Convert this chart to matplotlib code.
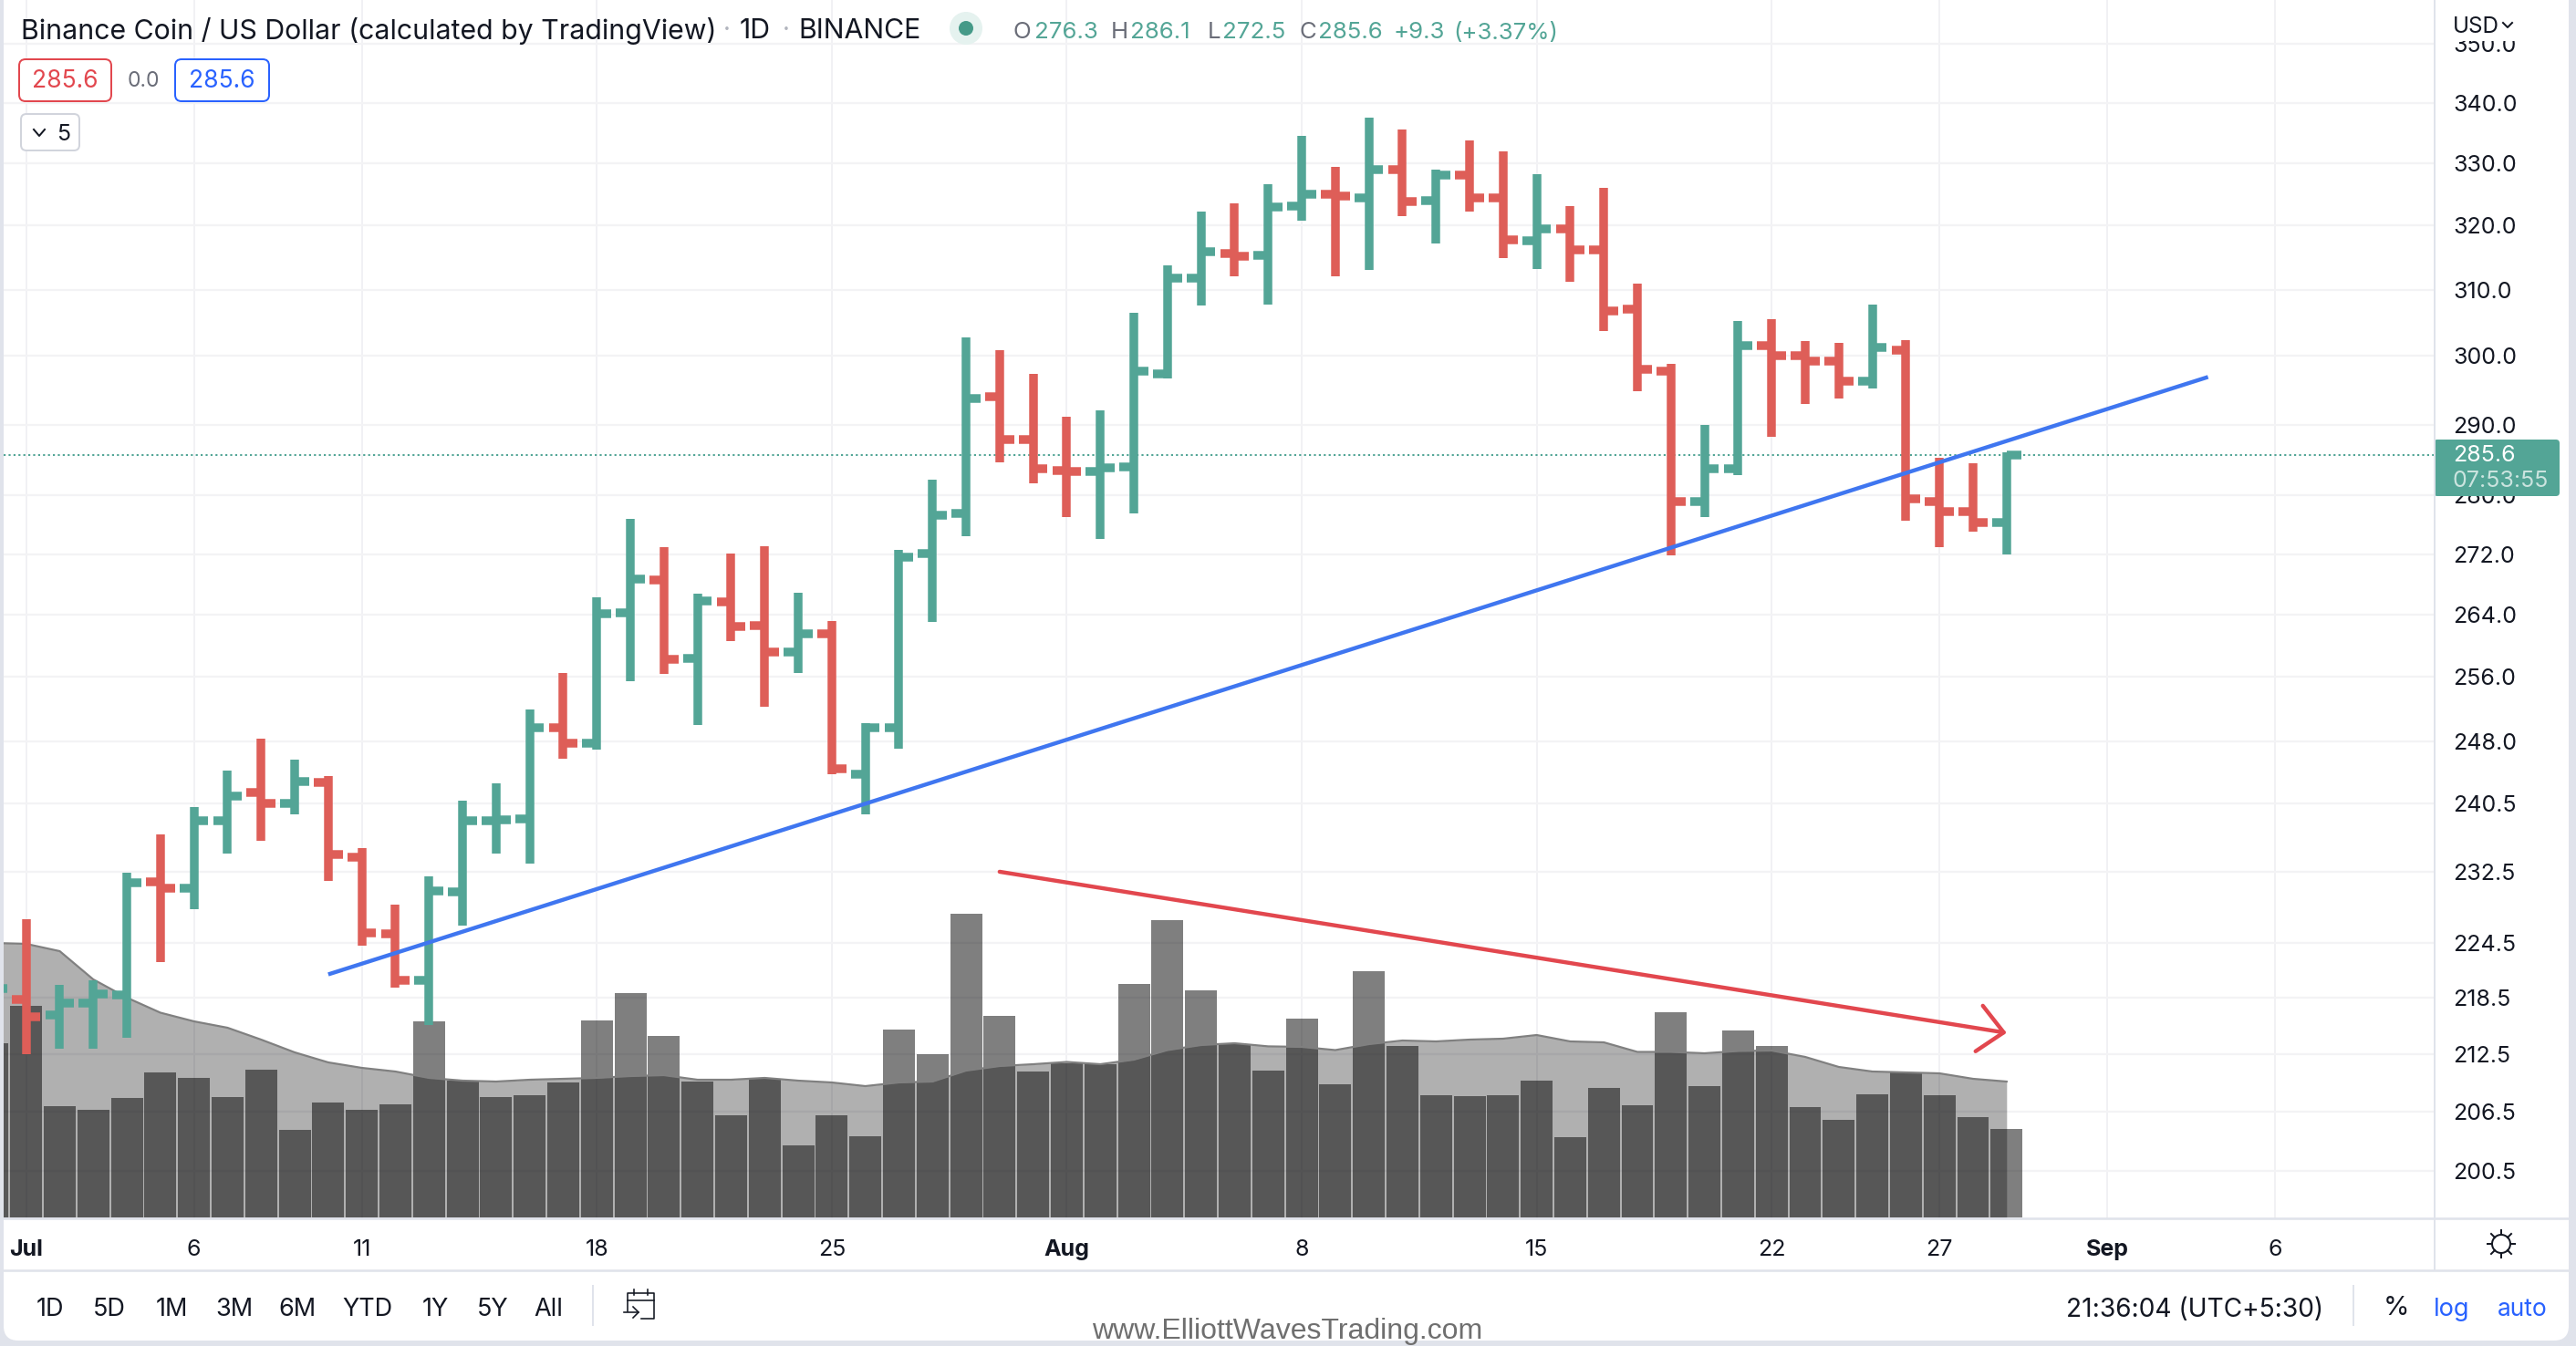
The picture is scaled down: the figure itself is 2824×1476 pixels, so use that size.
#!/usr/bin/env python3
"""
Binance Coin daily OHLC chart with volume, in the TradingView layout
"""

import matplotlib
matplotlib.use('Agg')  # Non-interactive backend
import matplotlib.pyplot as plt
from matplotlib.patches import FancyBboxPatch, Rectangle, Circle
from matplotlib.ticker import FixedLocator, FixedFormatter, NullLocator

# Days counted from Jul 1, the first one (-1) is only just visible at the left edge
days = list(range(-1, 60))

opens = [217.0, 218.3, 216.6, 217.9, 218.8, 231.3, 230.6, 238.4, 241.8, 240.5, 243.0,
         234.2, 225.5, 220.4, 230.2, 238.4, 238.7, 249.7, 247.7, 264.2, 268.6, 258.3,
         265.7, 262.6, 259.2, 261.5, 244.0, 249.7, 272.1, 277.5, 294.0, 287.8, 283.5,
         283.3, 284.0, 297.4, 311.7, 315.6, 315.3, 323.0, 325.0, 324.4, 329.0, 323.9,
         328.0, 324.4, 317.6, 319.4, 316.1, 307.0, 297.7, 279.2, 283.8, 301.6, 300.0,
         299.3, 296.3, 300.8, 279.2, 277.8, 276.3]
highs = [223.0, 227.1, 219.9, 220.4, 232.4, 236.8, 240.1, 244.4, 248.3, 245.7, 243.8,
         235.2, 228.7, 232.0, 240.8, 242.9, 251.9, 256.5, 266.3, 276.8, 272.9, 266.8,
         272.1, 273.1, 266.9, 263.2, 250.2, 272.6, 282.2, 302.7, 300.8, 297.3, 291.1,
         292.0, 306.4, 313.8, 322.2, 323.5, 326.6, 334.5, 329.4, 337.5, 335.6, 329.0,
         333.7, 331.9, 328.2, 323.0, 326.0, 310.9, 298.8, 289.9, 305.2, 305.5, 302.2,
         301.9, 307.7, 302.4, 285.3, 284.5, 286.1]
lows = [214.0, 212.5, 213.0, 213.0, 214.2, 222.3, 228.2, 234.6, 236.1, 239.2, 231.4,
        224.2, 219.6, 215.5, 226.4, 234.6, 233.4, 245.8, 247.0, 255.5, 256.4, 250.0,
        260.6, 252.3, 256.5, 244.0, 239.2, 247.1, 263.1, 274.4, 284.6, 281.7, 277.0,
        274.0, 277.6, 296.7, 307.6, 312.0, 307.7, 320.7, 312.0, 313.1, 321.5, 317.1,
        322.2, 314.9, 313.2, 311.2, 303.7, 294.8, 271.9, 277.0, 282.8, 288.2, 293.0,
        293.7, 295.2, 276.6, 273.0, 275.1, 272.0]
closes = [219.5, 216.4, 217.9, 218.9, 231.2, 230.6, 238.4, 241.4, 240.5, 243.1, 234.5,
          225.6, 220.4, 230.3, 238.4, 238.5, 249.7, 247.7, 264.1, 268.7, 258.2, 265.8,
          262.5, 259.2, 261.5, 244.6, 249.6, 271.6, 277.3, 293.7, 287.8, 283.7, 283.4,
          283.9, 297.7, 311.7, 315.9, 315.1, 322.9, 325.0, 324.7, 329.0, 323.8, 328.0,
          324.4, 317.7, 319.4, 316.1, 306.8, 298.0, 279.2, 283.7, 301.5, 300.0, 299.2,
          296.3, 301.2, 279.5, 277.8, 276.3, 285.6]
volumes = [191, 232, 122, 118, 131, 159, 153, 132, 162, 96, 126, 118, 124, 215, 150, 132,
           134, 148, 216, 246, 199, 149, 112, 152, 79, 112, 89, 206, 179, 333, 221, 160,
           169, 168, 256, 326, 249, 190, 161, 218, 146, 270, 188, 134, 133, 134, 150, 88,
           142, 123, 225, 144, 205, 188, 121, 107, 135, 159, 134, 110, 97]
volume_ma = [301, 300, 292, 261, 241, 224.5, 215, 208, 195, 181, 170, 164, 160, 153, 150,
             149, 151, 152, 153, 155, 156, 151, 151, 153, 150, 148, 144, 148, 149, 161,
             166, 168, 170.5, 168, 173, 183.5, 189, 191, 187.6, 187, 183.5, 190, 194, 193,
             195, 196, 200, 193, 192, 181.5, 181.5, 180, 182.5, 183, 176, 165, 160, 159,
             158, 152, 149]

price_ticks = [200.5, 206.5, 212.5, 218.5, 224.5, 232.5, 240.5, 248.0, 256.0, 264.0, 272.0,
               280.0, 290.0, 300.0, 310.0, 320.0, 330.0, 340.0, 350.0]
date_ticks = [0, 5, 10, 17, 24, 31, 38, 45, 52, 57, 62, 67]
date_labels = ['Jul', '6', '11', '18', '25', 'Aug', '8', '15', '22', '27', 'Sep', '6']
month_labels = ['Jul', 'Aug', 'Sep']

# (day, price) end points of the drawn lines
trend_days = [9.0, 65.0]
trend_prices = [221.0, 296.9]
arrow_days = [29.0, 59.0]
arrow_prices = [232.5, 214.7]
last_price = 285.6

range_labels = ['1D', '5D', '1M', '3M', '6M', 'YTD', '1Y', '5Y', 'All']
range_x = [55, 120, 188, 257, 326, 403, 477, 540, 601]

TEAL = '#53a596'
RED = '#de5e58'
BLUE = '#3f76f0'
ARROW_RED = '#e2474e'
INK = '#131722'
MUTED = '#6a6d78'
FRAME = '#e0e3eb'
GRID = '#f3f3f5'
W, H = 2824, 1476
FONT = 'Inter'
PX = 72 / 100  # one pixel in points

plt.rcParams['font.family'] = FONT

fig = plt.figure(figsize=(W / 100, H / 100), dpi=100, facecolor=FRAME)


def pixel_axes(zorder):
    """Full figure axes that work in reference pixels"""
    a = fig.add_axes([0, 0, 1, 1], zorder=zorder)
    a.set_xlim(0, W)
    a.set_ylim(H, 0)
    a.axis('off')
    return a


back = pixel_axes(0)
back.add_patch(FancyBboxPatch((4, -30), 2812, 1500, boxstyle='round,pad=0,rounding_size=16',
                              fc='white', ec='none'))

# Chart pane
rect = [4 / W, 1 - 1336 / H, (2669 - 4) / W, 1336 / H]
xlim = (-0.67, 71.75)
ylim = (195.9, 357.7)

ax = fig.add_axes(rect, zorder=1, facecolor='none')
ax.set_xlim(xlim)
ax.set_yscale('log')
ax.set_ylim(ylim)
ax.yaxis.set_major_locator(FixedLocator(price_ticks))
ax.yaxis.set_major_formatter(FixedFormatter([f'{p:.1f}' for p in price_ticks]))
ax.yaxis.set_minor_locator(NullLocator())
ax.yaxis.tick_right()
ax.tick_params(axis='y', length=0, pad=20 * PX, labelsize=18, labelcolor=INK)
ax.set_xticks(date_ticks)
ax.set_xticklabels(date_labels)
ax.tick_params(axis='x', length=0, pad=23 * PX, labelsize=18, labelcolor=INK)
for lab in ax.get_xticklabels():
    if lab.get_text() in month_labels:
        lab.set_fontweight('bold')
ax.grid(True, color=GRID, linewidth=2.2 * PX)
ax.xaxis.grid(True, color='#f0f0f3', linewidth=1.8 * PX)
ax.set_axisbelow(True)
for side in ax.spines:
    ax.spines[side].set_visible(False)

# Volume and its moving average
vol_ax = fig.add_axes(rect, zorder=2, facecolor='none')
vol_ax.set_xlim(xlim)
vol_ax.set_ylim(-1, 1335)
vol_ax.axis('off')
vol_ax.fill_between(days, volume_ma, 0, color='black', alpha=0.31, linewidth=0)
vol_ax.plot(days, volume_ma, color='#808080', linewidth=2.2 * PX)
vol_ax.bar(days, volumes, width=0.95, color='black', alpha=0.5, linewidth=0)

# Price bars
price_ax = fig.add_axes(rect, zorder=3, facecolor='none')
price_ax.set_xlim(xlim)
price_ax.set_yscale('log')
price_ax.set_ylim(ylim)
price_ax.axis('off')
price_ax.axhline(last_price, color=TEAL, linewidth=2 * PX, linestyle=(0, (1.1, 1.6)))
for d, o, h, l, c in zip(days, opens, highs, lows, closes):
    col = TEAL if c >= o else RED
    price_ax.plot([d, d], [l, h], color=col, linewidth=9.5 * PX, solid_capstyle='butt')
    price_ax.plot([d - 0.43, d], [o, o], color=col, linewidth=9.5 * PX, solid_capstyle='butt')
    price_ax.plot([d, d + 0.43], [c, c], color=col, linewidth=9.5 * PX, solid_capstyle='butt')

price_ax.plot(trend_days, trend_prices, color=BLUE, linewidth=4.4 * PX, solid_capstyle='butt')
price_ax.annotate('', xy=(arrow_days[1], arrow_prices[1]), xytext=(arrow_days[0], arrow_prices[0]),
                  arrowprops=dict(arrowstyle='->,head_length=1.4,head_width=1.3', mutation_scale=14,
                                  color=ARROW_RED, linewidth=4.4 * PX, shrinkA=0, shrinkB=0))

# Everything around the pane
ui = pixel_axes(5)
ui.plot([4, 2816], [1336, 1336], color=FRAME, linewidth=2.6 * PX)
ui.plot([4, 2816], [1393, 1393], color=FRAME, linewidth=2.6 * PX)
ui.plot([2669, 2669], [0, 1393], color=FRAME, linewidth=2 * PX)

ui.add_patch(Rectangle((2671, 0), 144, 45, fc='white', ec='none'))
ui.text(2689, 29, 'USD', fontsize=17.5, color=INK, va='center', ha='left')
ui.plot([2744, 2749, 2754], [25, 30, 25], color=INK, linewidth=2 * PX)

ui.add_patch(FancyBboxPatch((2668, 482), 138, 62, boxstyle='round,pad=0,rounding_size=4',
                            fc=TEAL, ec='none'))
ui.text(2689, 500, '285.6', fontsize=18, color='white', va='center', ha='left')
ui.text(2689, 528, '07:53:55', fontsize=18, color='white', alpha=0.7, va='center', ha='left')

# Header
ui.text(23, 34, 'Binance Coin / US Dollar (calculated by TradingView)', fontsize=21.8, color=INK,
        va='center', ha='left')
ui.text(797, 34, '·', fontsize=20, color='#b2b5be', va='center', ha='center')
ui.text(811, 34, '1D', fontsize=21.8, color=INK, va='center', ha='left')
ui.text(862, 34, '·', fontsize=20, color='#b2b5be', va='center', ha='center')
ui.text(875, 34, 'BINANCE', fontsize=21.8, color=INK, va='center', ha='left')
ui.add_patch(Circle((1059, 31), 18, fc='#e5f2ef', ec='none'))
ui.add_patch(Circle((1059, 31), 8, fc='#459a88', ec='none'))
ohlc_parts = [(1111, 'O', MUTED), (1134, '276.3', TEAL), (1218, 'H', MUTED), (1239, '286.1', TEAL),
              (1324, 'L', MUTED), (1340, '272.5', TEAL), (1424, 'C', MUTED), (1445, '285.6', TEAL),
              (1528, '+9.3', TEAL), (1593, '(+3.37%)', TEAL)]
for x, s, col in ohlc_parts:
    ui.text(x, 36, s, fontsize=18.6, color=col, va='center', ha='left')

ui.add_patch(FancyBboxPatch((21, 65), 101, 46, boxstyle='round,pad=0,rounding_size=7',
                            fc='white', ec='#e2474e', linewidth=2 * PX))
ui.text(71, 89, '285.6', fontsize=19, color='#e2474e', va='center', ha='center')
ui.text(157, 89, '0.0', fontsize=16.5, color=MUTED, va='center', ha='center')
ui.add_patch(FancyBboxPatch((192, 65), 103, 46, boxstyle='round,pad=0,rounding_size=7',
                            fc='white', ec='#2962ff', linewidth=2 * PX))
ui.text(243, 89, '285.6', fontsize=19, color='#2962ff', va='center', ha='center')
ui.add_patch(FancyBboxPatch((23, 125), 64, 40, boxstyle='round,pad=0,rounding_size=6',
                            fc='white', ec='#d1d4dc', linewidth=2 * PX))
ui.plot([37, 43, 49], [142, 149, 142], color=INK, linewidth=2 * PX)
ui.text(70, 147, '5', fontsize=18, color=INK, va='center', ha='center')

# Bottom toolbar
for x, s in zip(range_x, range_labels):
    ui.text(x, 1436, s, fontsize=19.5, color=INK, va='center', ha='center')
ui.plot([650, 650], [1410, 1453], color=FRAME, linewidth=2 * PX)
ui.plot([2580, 2580], [1410, 1453], color=FRAME, linewidth=2 * PX)

# Calendar icon
ui.plot([688, 688, 717, 717, 703], [1438, 1418, 1418, 1446, 1446], color=INK, linewidth=1.6 * PX)
ui.plot([688, 717], [1426, 1426], color=INK, linewidth=1.6 * PX)
ui.plot([695, 695], [1414, 1420], color=INK, linewidth=1.6 * PX)
ui.plot([710, 710], [1414, 1420], color=INK, linewidth=1.6 * PX)
ui.plot([684, 700], [1439, 1439], color=INK, linewidth=1.6 * PX)
ui.plot([694, 700, 694], [1433, 1439, 1445], color=INK, linewidth=1.6 * PX)

ui.text(2265, 1436, '21:36:04 (UTC+5:30)', fontsize=20.2, color=INK, va='center', ha='left')
ui.text(2627, 1434, '%', fontsize=21, color=INK, va='center', ha='center')
ui.text(2688, 1436, 'log', fontsize=19.5, color='#2962ff', va='center', ha='center')
ui.text(2765, 1436, 'auto', fontsize=19, color='#2962ff', va='center', ha='center')
ui.text(1411, 1460, 'www.ElliottWavesTrading.com', fontsize=23, color='#6f6f6f', va='center',
        ha='center', family='Liberation Sans')

# Sun icon of the settings button
ui.add_patch(Circle((2742, 1364), 10, fc='none', ec=INK, linewidth=2 * PX))
for x0, y0, x1, y1 in [(2742, 1349, 2742, 1354), (2742, 1374, 2742, 1379), (2727, 1364, 2732, 1364),
                       (2752, 1364, 2757, 1364), (2731, 1353, 2735, 1357), (2749, 1371, 2753, 1375),
                       (2753, 1353, 2749, 1357), (2735, 1371, 2731, 1375)]:
    ui.plot([x0, x1], [y0, y1], color=INK, linewidth=2 * PX)

fig.savefig('out.png', dpi=100, facecolor=fig.get_facecolor())
